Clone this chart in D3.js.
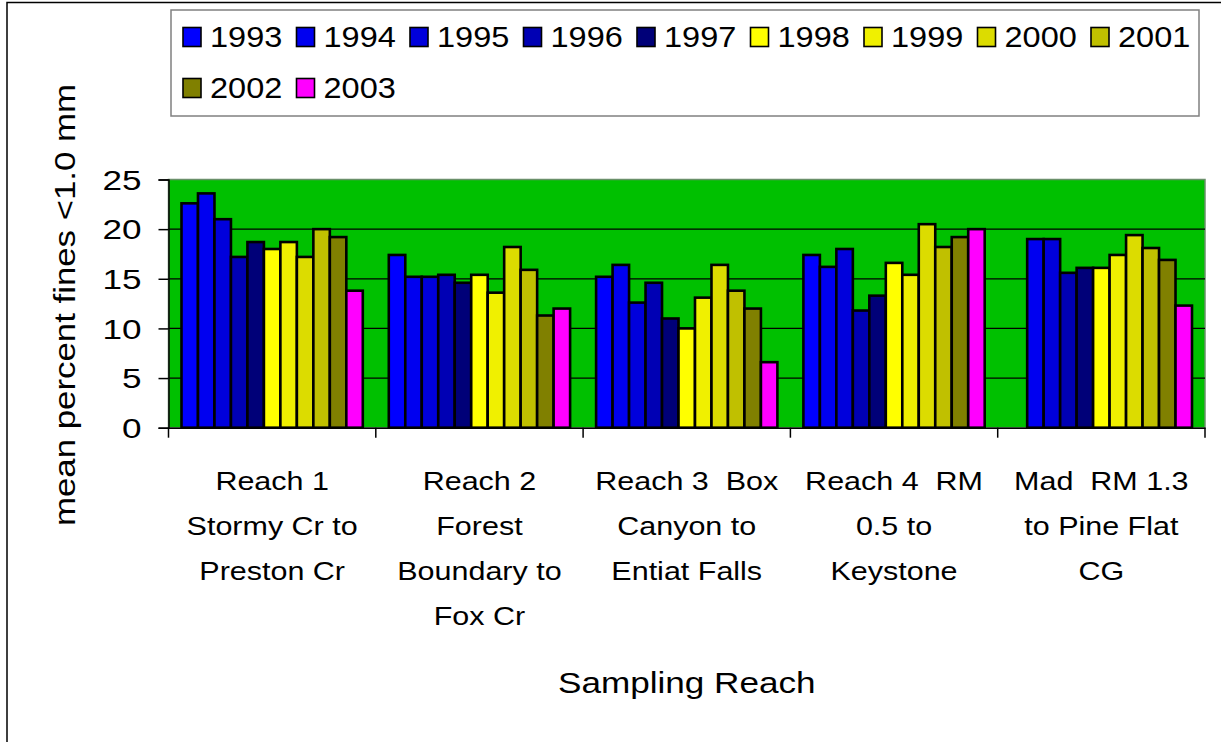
<!DOCTYPE html>
<html>
<head>
<meta charset="utf-8">
<script src="https://cdn.jsdelivr.net/npm/d3@7"></script>
<style>
  html, body { margin: 0; padding: 0; background: #fff; }
  svg { display: block; }
  text { font-family: "Liberation Sans", Arial, sans-serif; fill: #000; white-space: pre; }
</style>
</head>
<body>
<svg id="chart" width="1221" height="742"></svg>
<script>
// ---------- data ----------
const categories = ["Reach 1", "Reach 2", "Reach 3", "Reach 4", "Mad"];
const categoryLines = [
  ["Reach 1", "Stormy Cr to", "Preston Cr"],
  ["Reach 2", "Forest", "Boundary to", "Fox Cr"],
  ["Reach 3  Box", "Canyon to", "Entiat Falls"],
  ["Reach 4  RM", "0.5 to", "Keystone"],
  ["Mad  RM 1.3", "to Pine Flat", "CG"]
];
const years = ["1993","1994","1995","1996","1997","1998","1999","2000","2001","2002","2003"];
const colors = ["#0000FF","#0000F0","#0000DC","#0000B4","#000078",
                "#FFFF00","#F0F000","#DCDC00","#C0C000","#808000","#FF00FF"];
const s1993 = [22.6, 17.4, 15.2, 17.4, null];
const s1994 = [23.6, 15.2, 16.4, 16.2, 19.0];
const s1995 = [21.0, 15.2, 12.6, 18.0, 19.0];
const s1996 = [17.2, 15.4, 14.6, 11.8, 15.6];
const s1997 = [18.7, 14.6, 11.0, 13.3, 16.1];
const s1998 = [18.0, 15.4, 10.0, 16.6, 16.1];
const s1999 = [18.7, 13.6, 13.1, 15.4, 17.4];
const s2000 = [17.2, 18.2, 16.4, 20.5, 19.4];
const s2001 = [20.0, 15.9, 13.8, 18.2, 18.1];
const s2002 = [19.2, 11.3, 12.0, 19.2, 16.9];
const s2003 = [13.8, 12.0, 6.6, 20.0, 12.3];
const seriesValues = [s1993,s1994,s1995,s1996,s1997,s1998,s1999,s2000,s2001,s2002,s2003];
const yTicks = [0, 5, 10, 15, 20, 25];
const yTitle = "mean percent fines <1.0 mm";
const xTitle = "Sampling Reach";

// ---------- helpers ----------
function stretch(sel, k) {
  sel.each(function () {
    const w = this.getComputedTextLength();
    d3.select(this).attr("textLength", w * k).attr("lengthAdjust", "spacingAndGlyphs");
  });
}

// ---------- layout ----------
const svg = d3.select("#chart");
svg.append("rect").attr("width", 1221).attr("height", 742).attr("fill", "#fff");

// outer frame (left and top edges visible)
svg.append("path").attr("d", "M7,742 L7,2.5 L1221,2.5")
  .attr("fill", "none").attr("stroke", "#000").attr("stroke-width", 1.5);

const plot = { left: 168.5, right: 1205, top: 179.5, bottom: 427.7 };

const x0 = d3.scaleBand().domain(categories).range([plot.left, plot.right]).padding(0);
const x1 = d3.scaleBand().domain(years).range([13, x0.bandwidth() - 13]).padding(0);
const y = d3.scaleLinear().domain([0, 25]).range([plot.bottom, plot.top]);

// plot area
svg.append("rect")
  .attr("x", plot.left).attr("y", plot.top)
  .attr("width", plot.right - plot.left).attr("height", plot.bottom - plot.top)
  .attr("fill", "#00C000").attr("stroke", "#6a8f6a").attr("stroke-width", 1.5);

// gridlines
svg.append("g").selectAll("line").data(yTicks.filter(t => t > 0 && t < 25)).join("line")
  .attr("x1", plot.left).attr("x2", plot.right)
  .attr("y1", d => y(d)).attr("y2", d => y(d))
  .attr("stroke", "#000").attr("stroke-width", 1.2);

// bars
const groups = svg.append("g").selectAll("g").data(categories).join("g")
  .attr("transform", d => `translate(${x0(d)},0)`);
groups.selectAll("rect")
  .data((c, ci) => years.map((yr, si) => ({ yr, si, v: seriesValues[si][ci] })).filter(d => d.v != null))
  .join("rect")
  .attr("x", d => x1(d.yr))
  .attr("width", x1.bandwidth())
  .attr("y", d => y(d.v))
  .attr("height", d => y(0) - y(d.v))
  .attr("fill", d => colors[d.si])
  .attr("stroke", "#000").attr("stroke-width", 2.6);

// y axis
const yAxis = svg.append("g").attr("transform", `translate(${plot.left},0)`)
  .call(d3.axisLeft(y).tickValues(yTicks).tickSize(10).tickPadding(17).tickFormat(d3.format("d")));
yAxis.select(".domain").attr("stroke", "#000").attr("stroke-width", 1.5);
yAxis.selectAll(".tick line").attr("stroke", "#000").attr("stroke-width", 1.5);
yAxis.selectAll(".tick text")
  .attr("font-family", "Liberation Sans, Arial, sans-serif")
  .attr("font-size", 27).attr("fill", "#000").attr("dy", "0.36em")
  .call(stretch, 1.3);

// x axis
const xAxis = svg.append("g").attr("transform", `translate(0,${plot.bottom})`)
  .call(d3.axisBottom(x0).tickSize(0).tickFormat(""));
xAxis.select(".domain").attr("stroke", "#000").attr("stroke-width", 1.5);
const bounds = categories.map(c => x0(c)).concat([x0(categories[categories.length - 1]) + x0.bandwidth()]);
svg.append("g").selectAll("line").data(bounds).join("line")
  .attr("x1", d => d).attr("x2", d => d)
  .attr("y1", plot.bottom).attr("y2", plot.bottom + 10)
  .attr("stroke", "#000").attr("stroke-width", 1.5);

// category labels
const lineBaselines = [490, 535, 580, 625];
const catLabels = svg.append("g").selectAll("g").data(categories).join("g");
catLabels.each(function (c, ci) {
  const g = d3.select(this);
  const cx = x0(c) + x0.bandwidth() / 2;
  categoryLines[ci].forEach((ln, li) => {
    g.append("text").attr("x", cx).attr("y", lineBaselines[li])
      .attr("text-anchor", "middle").attr("font-size", 26.5)
      .text(ln);
  });
});
catLabels.selectAll("text").call(stretch, 1.15);

// axis titles
svg.append("text").attr("x", (plot.left + plot.right) / 2).attr("y", 693)
  .attr("text-anchor", "middle").attr("font-size", 30).text(xTitle)
  .call(stretch, 1.17);
svg.append("text").attr("transform", "translate(75,305) rotate(-90)")
  .attr("text-anchor", "middle").attr("font-size", 29).text(yTitle)
  .call(stretch, 1.2);

// legend
const legend = svg.append("g");
legend.append("rect").attr("x", 171).attr("y", 10).attr("width", 1028).attr("height", 106)
  .attr("fill", "#fff").attr("stroke", "#808080").attr("stroke-width", 1.5);
const perRow = 9;
const items = legend.selectAll("g.item").data(years).join("g").attr("class", "item")
  .attr("transform", (d, i) => `translate(${183 + (i % perRow) * 113.5},${i < perRow ? 37 : 88})`);
items.append("rect").attr("x", 0).attr("y", -9.5).attr("width", 18).attr("height", 19)
  .attr("fill", (d, i) => colors[i]).attr("stroke", "#000").attr("stroke-width", 1.6);
items.append("text").attr("x", 27).attr("y", 0).attr("dy", "0.36em")
  .attr("font-size", 29).text(d => d)
  .call(stretch, 1.12);
</script>
</body>
</html>
